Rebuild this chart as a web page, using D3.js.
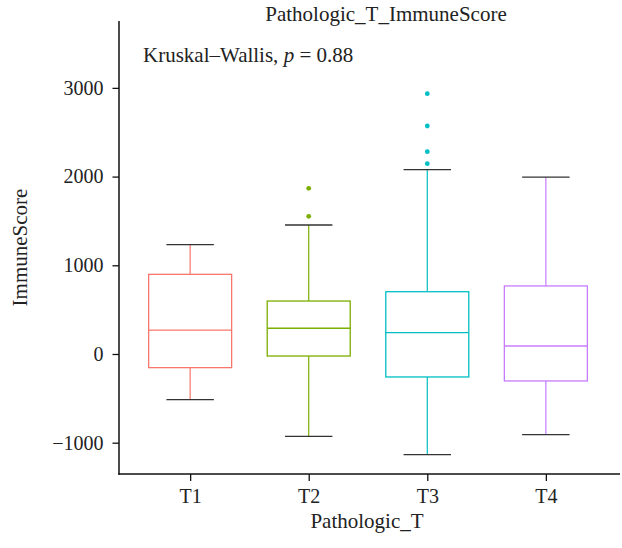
<!DOCTYPE html>
<html>
<head>
<meta charset="utf-8">
<script src="https://cdnjs.cloudflare.com/ajax/libs/d3/7.8.5/d3.min.js"></script>
<style>
	body { margin: 0; background: #fff; }
	text { font-family: "Liberation Serif", "DejaVu Serif", serif; fill: #222; }
</style>
</head>
<body>
<div class="chart"></div>
<script>
var groups = ['T1', 'T2', 'T3', 'T4'];
var colors = ['#F8766D', '#7CAE00', '#00BFC4', '#C77CFF'];
var whiskerLow = [-515, -928, -1135, -910];
var q1 = [-154, -23, -259, -304];
var medians = [270, 290, 240, 90];
var q3 = [898, 597, 702, 767];
var whiskerHigh = [1232, 1454, 2078, 1995];
var outliers = [[], [1552, 1868], [2145, 2281, 2570, 2935], []];
var yTicks = [-1000, 0, 1000, 2000, 3000];

var drawBoxes = function(){
	var w = 622;
	var h = 548;
	var left = 119, right = 617, top = 21, bottom = 474;

	var svg = d3.select('.chart').append('svg')
		.attr('width', w)
		.attr('height', h);

	var x = d3.scalePoint()
		.domain(groups)
		.range([left, right])
		.padding(0.6);
	var step = x.step();

	var y = d3.scaleLinear()
		.domain([-1353, 3754])
		.range([bottom, top]);

	/*---------------------------AXES--------------------------*/

	var yAxis = svg.append('g')
		.attr('transform', 'translate(' + left + ',0)')
		.call(d3.axisLeft(y).tickValues(yTicks).tickSizeOuter(0).tickSize(6.5).tickPadding(9)
			.tickFormat(function(d){ return d < 0 ? '\u2212' + Math.abs(d) : d; }));

	var xAxis = svg.append('g')
		.attr('transform', 'translate(0,' + bottom + ')')
		.call(d3.axisBottom(x).tickSizeOuter(0).tickSize(7).tickPadding(8));

	[yAxis, xAxis].forEach(function(a){
		a.select('.domain').attr('stroke', '#111').attr('stroke-width', 1.5);
		a.selectAll('.tick line').attr('stroke', '#111').attr('stroke-width', 1.3);
		a.selectAll('.tick text').style('font-size', '20px').attr('fill', '#222');
	});
	// the two axis lines meet in the corner
	yAxis.select('.domain').attr('d', 'M0,' + top + 'V' + (bottom + 0.75));
	xAxis.select('.domain').attr('d', 'M' + (left - 0.75) + ',0H' + (w - 2));

	/*---------------------------BOXES--------------------------*/

	var box = svg.selectAll('.box').data(groups)
		.enter().append('g')
		.attr('class', 'box');

	// whiskers
	box.append('line')
		.attr('x1', function(d){ return x(d); })
		.attr('x2', function(d){ return x(d); })
		.attr('y1', function(d, i){ return y(whiskerHigh[i]); })
		.attr('y2', function(d, i){ return y(q3[i]); })
		.attr('stroke', function(d, i){ return colors[i]; })
		.attr('stroke-width', 1.2);
	box.append('line')
		.attr('x1', function(d){ return x(d); })
		.attr('x2', function(d){ return x(d); })
		.attr('y1', function(d, i){ return y(q1[i]); })
		.attr('y2', function(d, i){ return y(whiskerLow[i]); })
		.attr('stroke', function(d, i){ return colors[i]; })
		.attr('stroke-width', 1.2);

	// caps
	[whiskerHigh, whiskerLow].forEach(function(arr){
		box.append('line')
			.attr('x1', function(d){ return x(d) - step * 0.2; })
			.attr('x2', function(d){ return x(d) + step * 0.2; })
			.attr('y1', function(d, i){ return y(arr[i]); })
			.attr('y2', function(d, i){ return y(arr[i]); })
			.attr('stroke', '#333')
			.attr('stroke-width', 1.3);
	});

	box.append('rect')
		.attr('x', function(d){ return x(d) - step * 0.35; })
		.attr('width', step * 0.7)
		.attr('y', function(d, i){ return y(q3[i]); })
		.attr('height', function(d, i){ return y(q1[i]) - y(q3[i]); })
		.attr('fill', 'white')
		.attr('stroke', function(d, i){ return colors[i]; })
		.attr('stroke-width', 1.3);

	box.append('line')
		.attr('x1', function(d){ return x(d) - step * 0.35; })
		.attr('x2', function(d){ return x(d) + step * 0.35; })
		.attr('y1', function(d, i){ return y(medians[i]); })
		.attr('y2', function(d, i){ return y(medians[i]); })
		.attr('stroke', function(d, i){ return colors[i]; })
		.attr('stroke-width', 1.3);

	box.each(function(d, i){
		d3.select(this).selectAll('circle').data(outliers[i])
			.enter().append('circle')
			.attr('cx', x(d))
			.attr('cy', function(v){ return y(v); })
			.attr('r', 2.4)
			.attr('fill', colors[i]);
	});

	/*---------------------------TEXTS--------------------------*/

	svg.append('text')
		.attr('x', 386)
		.attr('y', 21)
		.attr('text-anchor', 'middle')
		.style('font-size', '21px')
		.text('Pathologic_T_ImmuneScore');

	var kw = svg.append('text')
		.attr('x', 143)
		.attr('y', 62)
		.style('font-size', '21px');
	kw.append('tspan').text('Kruskal\u2013Wallis, ');
	kw.append('tspan').style('font-style', 'italic').text('p');
	kw.append('tspan').text(' = 0.88');

	svg.append('text')
		.attr('x', 367)
		.attr('y', 528)
		.attr('text-anchor', 'middle')
		.style('font-size', '21px')
		.text('Pathologic_T');

	svg.append('text')
		.attr('transform', 'translate(27,' + ((top + bottom) / 2) + ') rotate(-90)')
		.attr('text-anchor', 'middle')
		.style('font-size', '21px')
		.text('ImmuneScore');
}();
</script>
</body>
</html>
